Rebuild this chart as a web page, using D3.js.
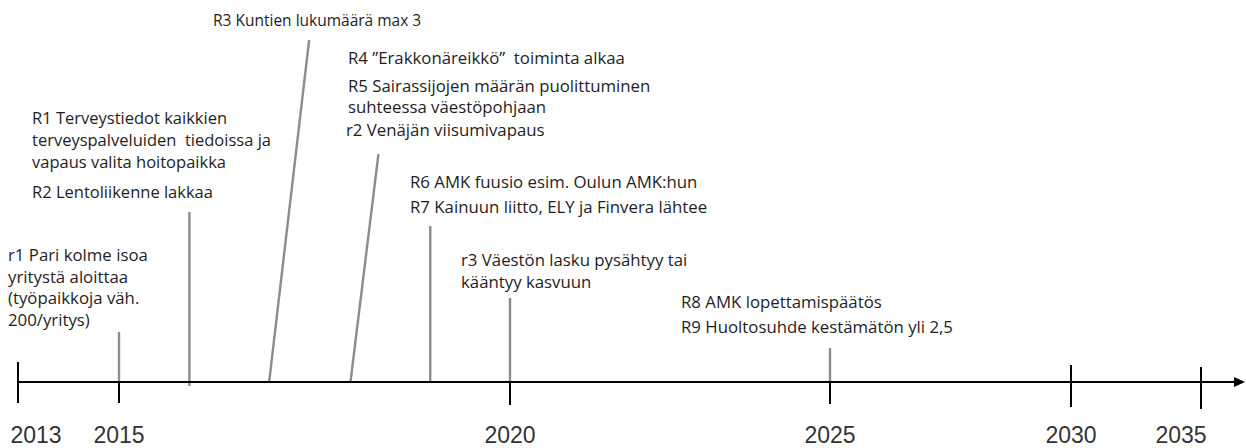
<!DOCTYPE html>
<html><head><meta charset="utf-8">
<script src="https://cdn.jsdelivr.net/npm/d3@7"></script>
<style>body{margin:0;background:#fff;overflow:hidden} svg{display:block}</style>
</head><body>
<script>
// ---- data ----
const axisYears = [2013, 2015, 2020, 2025, 2030, 2035];
const axisLabels = ["2013", "2015", "2020", "2025", "2030", "2035"];
const eventYears = [2015, 2015.9, 2016.92, 2017.96, 2018.98, 2020, 2025];
const eventTexts = [
  ["r1 Pari kolme isoa", "yritystä aloittaa", "(työpaikkoja väh.", "200/yritys)"],
  ["R1 Terveystiedot kaikkien", "terveyspalveluiden  tiedoissa ja", "vapaus valita hoitopaikka", "R2 Lentoliikenne lakkaa"],
  ["R3 Kuntien lukumäärä max 3"],
  ["R4 ”Erakkonäreikkö”  toiminta alkaa", "R5 Sairassijojen määrän puolittuminen", "suhteessa väestöpohjaan", "r2 Venäjän viisumivapaus"],
  ["R6 AMK fuusio esim. Oulun AMK:hun", "R7 Kainuun liitto, ELY ja Finvera lähtee"],
  ["r3 Väestön lasku pysähtyy tai", "kääntyy kasvuun"],
  ["R8 AMK lopettamispäätös", "R9 Huoltosuhde kestämätön yli 2,5"]
];

// ---- layout ----
const W = 1246, H = 448, axisY = 382;
const axisRange = [18, 119, 510, 830, 1071, 1201];
const labelShift = [18, 0, 0, 0, 0, -20];
const tickUp = [20, 0, 0, 0, 17, 15];
const tickDown = [21, 21, 23, 22, 25, 27];
const lineTop = [332, 212, 40, 154, 226, 298, 348];
const lineSlant = [0, 0, 40, 28, 0, 0, 0];
const lineBottomExtra = [0, 4, 0, 0, 0, 0, 0];
const textSize = [16.8, 16.5, 15.5, 16.8, 16.8, 16.8, 16.8];
const textX = [[8,8,8,8],[32,32,32,32],[213],[348,348,348,346],[410,410],[461,461],[681,681]];
const textY = [[261,282.5,304,325.5],[124,146,168,198],[26],[64,91.5,112.5,136],[188,213],[266,288],[308,333]];

const x = d3.scaleLinear().domain(axisYears).range(axisRange);

const svg = d3.select("body").append("svg").attr("width", W).attr("height", H);

// event lines
svg.append("g").selectAll("line").data(eventYears).join("line")
  .attr("x1", d => x(d))
  .attr("y1", (d, i) => axisY + lineBottomExtra[i])
  .attr("x2", (d, i) => x(d) + lineSlant[i])
  .attr("y2", (d, i) => lineTop[i])
  .attr("stroke", "#8c8c8c").attr("stroke-width", 2.4);

// axis line + arrow
const axisEnd = 1245;
svg.append("line").attr("x1", x(2013)).attr("x2", axisEnd - 8)
  .attr("y1", axisY).attr("y2", axisY).attr("stroke", "#000").attr("stroke-width", 2);
svg.append("path")
  .attr("d", `M${axisEnd},${axisY}L${axisEnd - 11},${axisY - 5}L${axisEnd - 11},${axisY + 5}Z`)
  .attr("fill", "#000");

// ticks
svg.append("g").selectAll("line").data(axisYears).join("line")
  .attr("x1", d => x(d)).attr("x2", d => x(d))
  .attr("y1", (d, i) => axisY - tickUp[i])
  .attr("y2", (d, i) => axisY + tickDown[i])
  .attr("stroke", "#000").attr("stroke-width", 2);

// year labels
svg.append("g").selectAll("text").data(axisYears).join("text")
  .attr("x", (d, i) => x(d) + labelShift[i])
  .attr("y", 442.5)
  .attr("text-anchor", "middle")
  .attr("font-family", "'Liberation Sans', Arial, sans-serif")
  .attr("font-size", 23)
  .attr("fill", "#333")
  .text((d, i) => axisLabels[i]);

// event texts
const tg = svg.append("g")
  .attr("font-family", "'Open Sans', Lato, sans-serif")
  .attr("fill", "#1e1e1e");
eventTexts.forEach((lines, i) => {
  tg.selectAll(null).data(lines).join("text")
    .attr("x", (d, j) => textX[i][j])
    .attr("y", (d, j) => textY[i][j])
    .attr("font-size", textSize[i])
    .attr("xml:space", "preserve")
    .style("white-space", "pre")
    .text(d => d);
});
</script>
</body></html>
